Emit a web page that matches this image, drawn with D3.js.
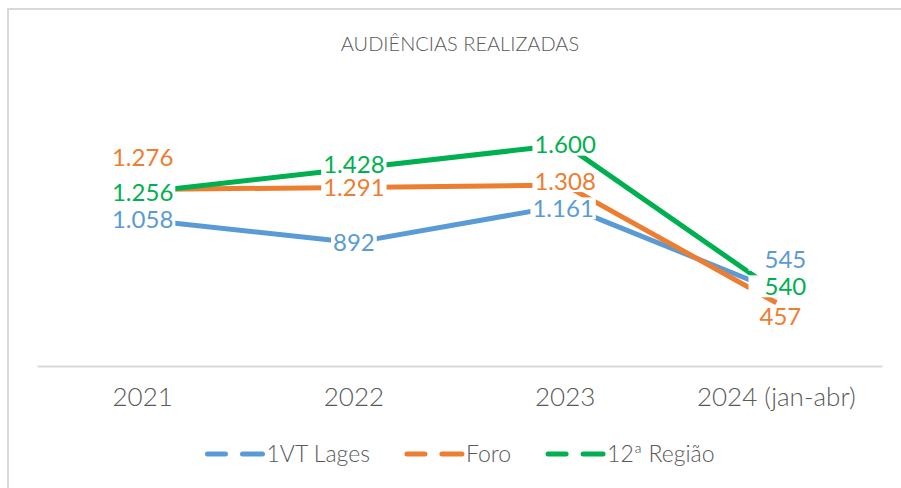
<!DOCTYPE html>
<html>
<head>
<meta charset="utf-8">
<script src="https://cdn.jsdelivr.net/npm/d3@7"></script>
<style>
  body { margin: 0; background: #fff; }
  text { font-family: Lato, "Open Sans", sans-serif; }
</style>
</head>
<body>
<div id="chart"></div>
<script>
// dados
const anos = ["2021", "2022", "2023", "2024 (jan-abr)"]
const series = ["1VT Lages", "Foro", "12ª Região"]
const lages = [1058, 892, 1161, 545]
const foro = [1276, 1291, 1308, 457]
const regiao = [1256, 1428, 1600, 540]

const cores = ["#5B9BD5", "#ED7D31", "#00B050"]
const valores = [lages, foro, regiao]

const width = 901
const height = 488
const margin = { top: 117, bottom: 122, left: 37, right: 19 }

const fmt = v => d3.format(",")(v).replace(/,/g, ".")

const svg = d3.select("#chart").append("svg")
    .attr("width", width)
    .attr("height", height)

// borda do gráfico
svg.append("rect")
    .attr("x", 8).attr("y", 9)
    .attr("width", width).attr("height", height)
    .attr("fill", "none")
    .attr("stroke", "#D9D9D9")
    .attr("stroke-width", 2)

svg.append("text")
    .attr("x", 460).attr("y", 51)
    .attr("text-anchor", "middle")
    .attr("font-size", 20)
    .attr("font-weight", 300)
    .attr("fill", "#595959")
    .text("AUDIÊNCIAS REALIZADAS")

const x = d3.scaleBand()
    .domain(anos)
    .range([margin.left, width - margin.right])

const y = d3.scaleLinear()
    .domain([0, 1800])
    .range([height - margin.bottom, margin.top])

const cx = d => x(d) + x.bandwidth() / 2

// eixo x
const xAxisGroup = svg.append("g")
    .attr("transform", `translate(0, ${y(0)})`)
    .call(d3.axisBottom(x).tickSize(0).tickPadding(22))
xAxisGroup.select(".domain").attr("stroke", "#D9D9D9").attr("stroke-width", 2)
xAxisGroup.selectAll("text")
    .attr("font-size", 26)
    .attr("font-weight", 300)
    .attr("fill", "#595959")
    .attr("font-family", "Lato, sans-serif")

// linhas
const line = d3.line()
    .x((d, i) => cx(anos[i]))
    .y(d => y(d))

valores.forEach((vals, s) => {
    svg.append("path")
        .datum(vals)
        .attr("d", line)
        .attr("fill", "none")
        .attr("stroke", cores[s])
        .attr("stroke-width", 5)
        .attr("stroke-linejoin", "round")
})

// rótulos (alguns deslocados como no original)
const ajuste = {
    "1-0": [0, -32],
    "2-1": [0, -4],
    "0-3": [9, -31],
    "2-3": [9, -5],
    "1-3": [4, 14],
    "1-2": [0, -4],
    "0-2": [-2, 3]
}

const rotulos = svg.append("g")
valores.forEach((vals, s) => {
    vals.forEach((v, i) => {
        const off = ajuste[s + "-" + i] || [0, 0]
        const g = rotulos.append("g")
            .attr("transform", `translate(${cx(anos[i]) + off[0]}, ${y(v) + off[1]})`)
        const rect = g.append("rect").attr("fill", "#fff")
        const t = g.append("text")
            .attr("text-anchor", "middle")
            .attr("dy", "0.36em")
            .attr("font-size", 24)
            .attr("fill", cores[s])
            .text(fmt(v))
        const w = t.node().getComputedTextLength()
        // a última coluna tem caixas mais largas à esquerda
        const padL = i === anos.length - 1 ? 16 : 2
        rect.attr("x", -w / 2 - padL).attr("y", -11).attr("width", w + padL + 2).attr("height", 22)
    })
})

// legenda
const legenda = svg.append("g")
let pos = 0
series.forEach((nome, s) => {
    const g = legenda.append("g").attr("transform", `translate(${pos}, 0)`)
    g.append("line").attr("x1", 2).attr("x2", 20)
    g.append("line").attr("x1", 37).attr("x2", 57)
    g.selectAll("line")
        .attr("y1", 0).attr("y2", 0)
        .attr("stroke", cores[s])
        .attr("stroke-width", 5)
        .attr("stroke-linecap", "round")
    const t = g.append("text")
        .attr("x", 61)
        .attr("dy", "0.36em")
        .attr("font-size", 23)
        .attr("font-weight", 300)
        .attr("fill", "#595959")
        .text(nome)
    pos += 61 + t.node().getComputedTextLength() + 35
})
const total = pos - 35
legenda.attr("transform", `translate(${460 - total / 2}, 454)`)
</script>
</body>
</html>
